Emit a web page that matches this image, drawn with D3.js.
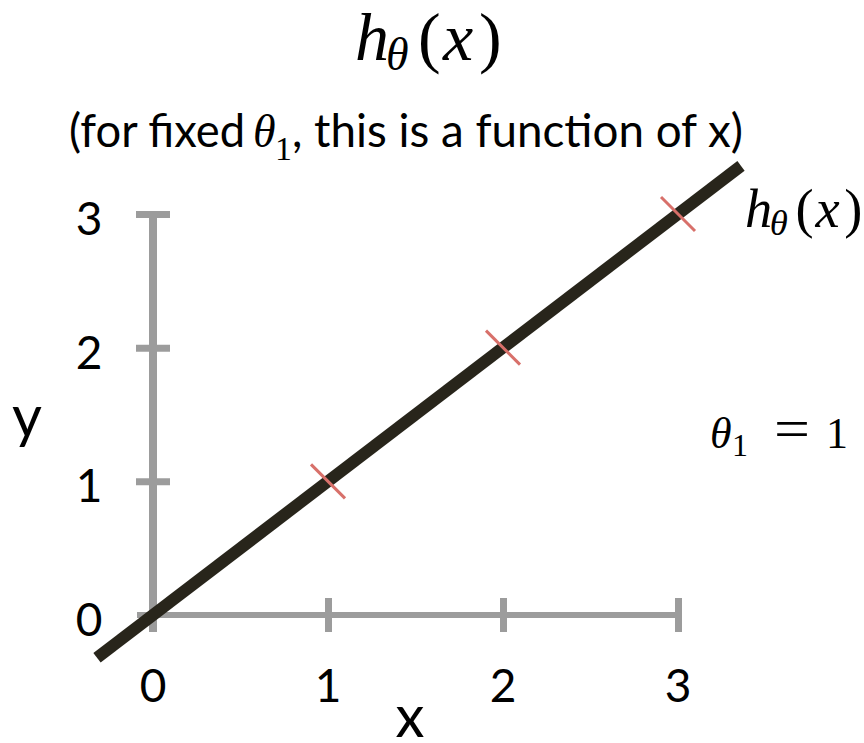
<!DOCTYPE html>
<html>
<head>
<meta charset="utf-8">
<script src="https://cdn.jsdelivr.net/npm/d3@7"></script>
<style>
  body { margin: 0; background: #fff; }
  .tick_label { font-family: Lato, "Open Sans", sans-serif; font-size: 46px; fill: #000; }
  .sans { font-family: Lato, "Open Sans", sans-serif; fill: #000; }
  .math { font-family: "Liberation Serif", "DejaVu Serif", serif; font-style: italic; fill: #000; }
  .up { font-style: normal; }
</style>
</head>
<body>
<div id="chart"></div>
<script>
const x_ticks = [0, 1, 2, 3];
const y_ticks = [0, 1, 2, 3];
const points = [[1, 1], [2, 2], [3, 3]];
const theta1 = 1;
const line_domain = [-0.32, 3.36];

const svg_width = 864, svg_height = 743;

const svg = d3.select('#chart')
  .append('svg')
  .attr('width', svg_width)
  .attr('height', svg_height);

const x_scale = d3.scaleLinear().domain([0, 3]).range([153, 678]);
const y_scale = d3.scaleLinear().domain([0, 3]).range([615, 214]);

const axis_color = '#9c9c9c';

// x axis
const x_axis = svg.append('g')
  .attr('transform', 'translate(0,' + y_scale(0) + ')')
  .call(d3.axisBottom(x_scale).tickValues(x_ticks.slice(1)).tickSize(17).tickFormat(''));
x_axis.select('.domain')
  .attr('d', 'M' + (x_scale(0) - 16) + ',0H' + x_scale(3))
  .attr('stroke', axis_color)
  .attr('stroke-width', 6);
x_axis.selectAll('.tick line')
  .attr('y1', -17)
  .attr('y2', 17)
  .attr('stroke', axis_color)
  .attr('stroke-width', 7);

// y axis
const y_axis = svg.append('g')
  .attr('transform', 'translate(' + x_scale(0) + ',0)')
  .call(d3.axisLeft(y_scale).tickValues(y_ticks.slice(1)).tickSize(17).tickFormat(''));
y_axis.select('.domain')
  .attr('d', 'M0,' + (y_scale(0) + 17) + 'V' + y_scale(3))
  .attr('stroke', axis_color)
  .attr('stroke-width', 8);
y_axis.selectAll('.tick line')
  .attr('x1', -17)
  .attr('x2', 17)
  .attr('stroke', axis_color)
  .attr('stroke-width', 7);

// tick labels
svg.append('g')
  .selectAll('text')
  .data(x_ticks)
  .enter()
  .append('text')
  .attr('class', 'tick_label')
  .attr('x', d => x_scale(d))
  .attr('y', y_scale(0) + 87)
  .attr('text-anchor', 'middle')
  .text(d => d);

svg.append('g')
  .selectAll('text')
  .data(y_ticks)
  .enter()
  .append('text')
  .attr('class', 'tick_label')
  .attr('x', x_scale(0) - 64)
  .attr('y', d => y_scale(d) + 21)
  .attr('text-anchor', 'middle')
  .text(d => d);

// axis titles
svg.append('text')
  .attr('class', 'sans')
  .style('font-size', '58px')
  .attr('x', 410)
  .attr('y', 737)
  .attr('text-anchor', 'middle')
  .text('x');

svg.append('text')
  .attr('class', 'sans')
  .style('font-size', '58px')
  .attr('x', 27)
  .attr('y', 437)
  .attr('text-anchor', 'middle')
  .text('y');

// hypothesis line
const line = d3.line()
  .x(d => x_scale(d))
  .y(d => y_scale(theta1 * d));
svg.append('path')
  .attr('d', line(line_domain))
  .attr('fill', 'none')
  .attr('stroke', '#28251b')
  .attr('stroke-width', 12);

// data points as red strokes across the line
svg.append('g')
  .selectAll('line')
  .data(points)
  .enter()
  .append('line')
  .attr('x1', d => x_scale(d[0]) - 17)
  .attr('y1', d => y_scale(d[1]) - 17)
  .attr('x2', d => x_scale(d[0]) + 17)
  .attr('y2', d => y_scale(d[1]) + 17)
  .attr('stroke', '#d8706a')
  .attr('stroke-width', 3);

// h_theta(x), glyphs placed one by one (TeX-like spacing)
function h_theta(x, y, k) {
  const t = svg.append('text')
    .attr('class', 'math')
    .attr('y', y)
    .style('font-size', (68 * k) + 'px');
  t.append('tspan').attr('x', x).text('h');
  t.append('tspan').attr('x', x + 31 * k).attr('y', y + 10 * k)
    .style('font-size', (46 * k) + 'px').text('θ');
  t.append('tspan').attr('class', 'up').attr('x', x + 63 * k).attr('y', y).text('(');
  t.append('tspan').attr('x', x + 88 * k).text('x');
  t.append('tspan').attr('class', 'up').attr('x', x + 124 * k).text(')');
}

h_theta(355, 60, 1);
h_theta(745, 227, 0.8);

// subtitle
const sub = svg.append('text')
  .attr('y', 147)
  .style('font-size', '46px');
sub.append('tspan').attr('class', 'sans')
  .attr('x', 69).attr('textLength', 176).attr('lengthAdjust', 'spacingAndGlyphs')
  .text('(for fixed');
sub.append('tspan').attr('class', 'math').attr('x', 253)
  .style('font-size', '46px').text('θ');
sub.append('tspan').attr('class', 'math up').attr('x', 275).attr('y', 160)
  .style('font-size', '34px').text('1');
sub.append('tspan').attr('class', 'sans').attr('x', 292).attr('y', 147)
  .attr('textLength', 451).attr('lengthAdjust', 'spacingAndGlyphs')
  .text(', this is a function of x)');

// theta_1 = 1
const th = svg.append('text')
  .attr('class', 'math')
  .attr('y', 448)
  .style('font-size', '44px');
th.append('tspan').attr('x', 710).text('θ');
th.append('tspan').attr('class', 'up').attr('x', 732).attr('y', 456)
  .style('font-size', '32px').text('1');
th.append('tspan').attr('class', 'up').attr('x', 774).attr('y', 448)
  .style('font-size', '56px').attr('textLength', 36).attr('lengthAdjust', 'spacingAndGlyphs').text('=');
th.append('tspan').attr('class', 'up').attr('x', 826).text(theta1);
</script>
</body>
</html>
